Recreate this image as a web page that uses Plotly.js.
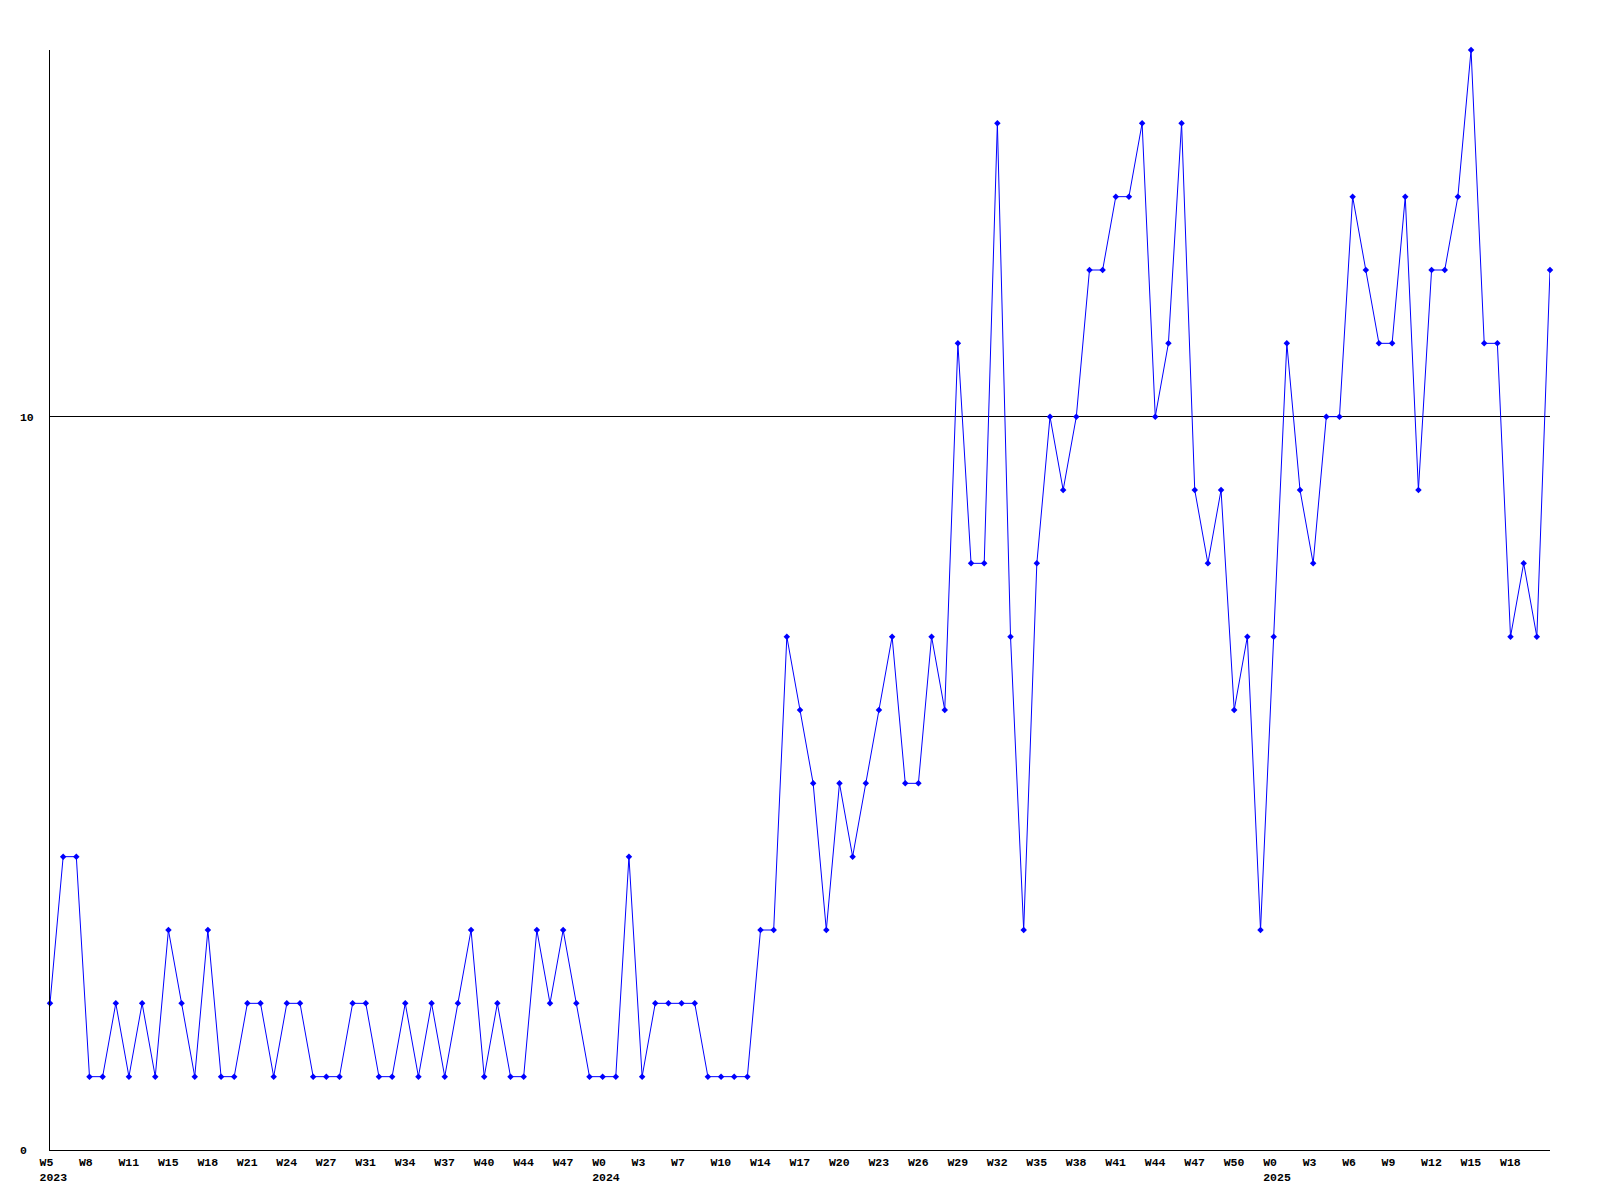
<!DOCTYPE html>
<html>
<head>
<meta charset="utf-8">
<script src="https://cdn.plot.ly/plotly-3.0.1.min.js"></script>
<style>html,body{margin:0;padding:0;background:#fff;}</style>
</head>
<body>
<div id="chart" style="width:1600px;height:1200px;"></div>
<script>
// weekly values (one per point)
const values = [
  2,4,4,1,1,2,1,2,1,3, 2,1,3,1,1,2,2,1,2,2,
  1,1,1,2,2,1,1,2,1,2, 1,2,3,1,2,1,1,3,2,3,
  2,1,1,1,4,1,2,2,2,2, 1,1,1,1,3,3,7,6,5,3,
  5,4,5,6,7,5,5,7,6,11, 8,8,14,7,3,8,10,9,10,12,
  12,13,13,14,10,11,14,9,8,9, 6,7,3,7,11,9,8,10,10,13,
  12,11,11,13,9,12,12,13,15,11, 11,7,8,7,12
];
// labels shown under every third point
const weekLabels = ["W5","W8","W11","W15","W18","W21","W24","W27","W31","W34","W37","W40","W44","W47",
  "W0","W3","W7","W10","W14","W17","W20","W23","W26","W29","W32","W35","W38","W41","W44","W47","W50",
  "W0","W3","W6","W9","W12","W15","W18"];
const yearLabels = {0:"2023", 42:"2024", 93:"2025"};
const yTickVals = [0, 10];
const yTickText = ["0\u00a0", "10"];

const xIdx = values.map((_, i) => i);
const tickVals = [], tickText = [];
weekLabels.forEach((w, k) => {
  const i = k * 3;
  tickVals.push(i);
  tickText.push(yearLabels[i] !== undefined ? w + "<br>" + yearLabels[i] : w);
});

const font = {family: "Liberation Mono, DejaVu Sans Mono, monospace", size: 11.5, color: "#000", weight: "bold"};

Plotly.newPlot("chart", [{
  x: xIdx, y: values, type: "scatter", mode: "lines+markers",
  line: {color: "#0000ff", width: 1},
  marker: {color: "#0000ff", symbol: "diamond", size: 5},
  cliponaxis: false, hoverinfo: "none"
}], {
  width: 1600, height: 1200,
  margin: {l: 50, r: 50, t: 50, b: 50},
  paper_bgcolor: "#fff", plot_bgcolor: "#fff",
  showlegend: false,
  font: font,
  xaxis: {
    range: [0, values.length - 1], showgrid: false, zeroline: false,
    showline: true, linecolor: "#000", linewidth: 1, ticks: "",
    tickmode: "array", tickvals: tickVals, ticktext: tickText,
    tickfont: font, ticklabelposition: "outside right", ticklabelshift: -11,
    ticklabelstandoff: 1, tickangle: 0
  },
  yaxis: {
    range: [0, 15], showgrid: true, gridcolor: "#000", gridwidth: 1, zeroline: false,
    showline: true, linecolor: "#000", linewidth: 1, ticks: "",
    tickmode: "array", tickvals: yTickVals, ticktext: yTickText,
    tickfont: font, ticklabelstandoff: 13
  }
}, {staticPlot: true});
</script>
</body>
</html>
